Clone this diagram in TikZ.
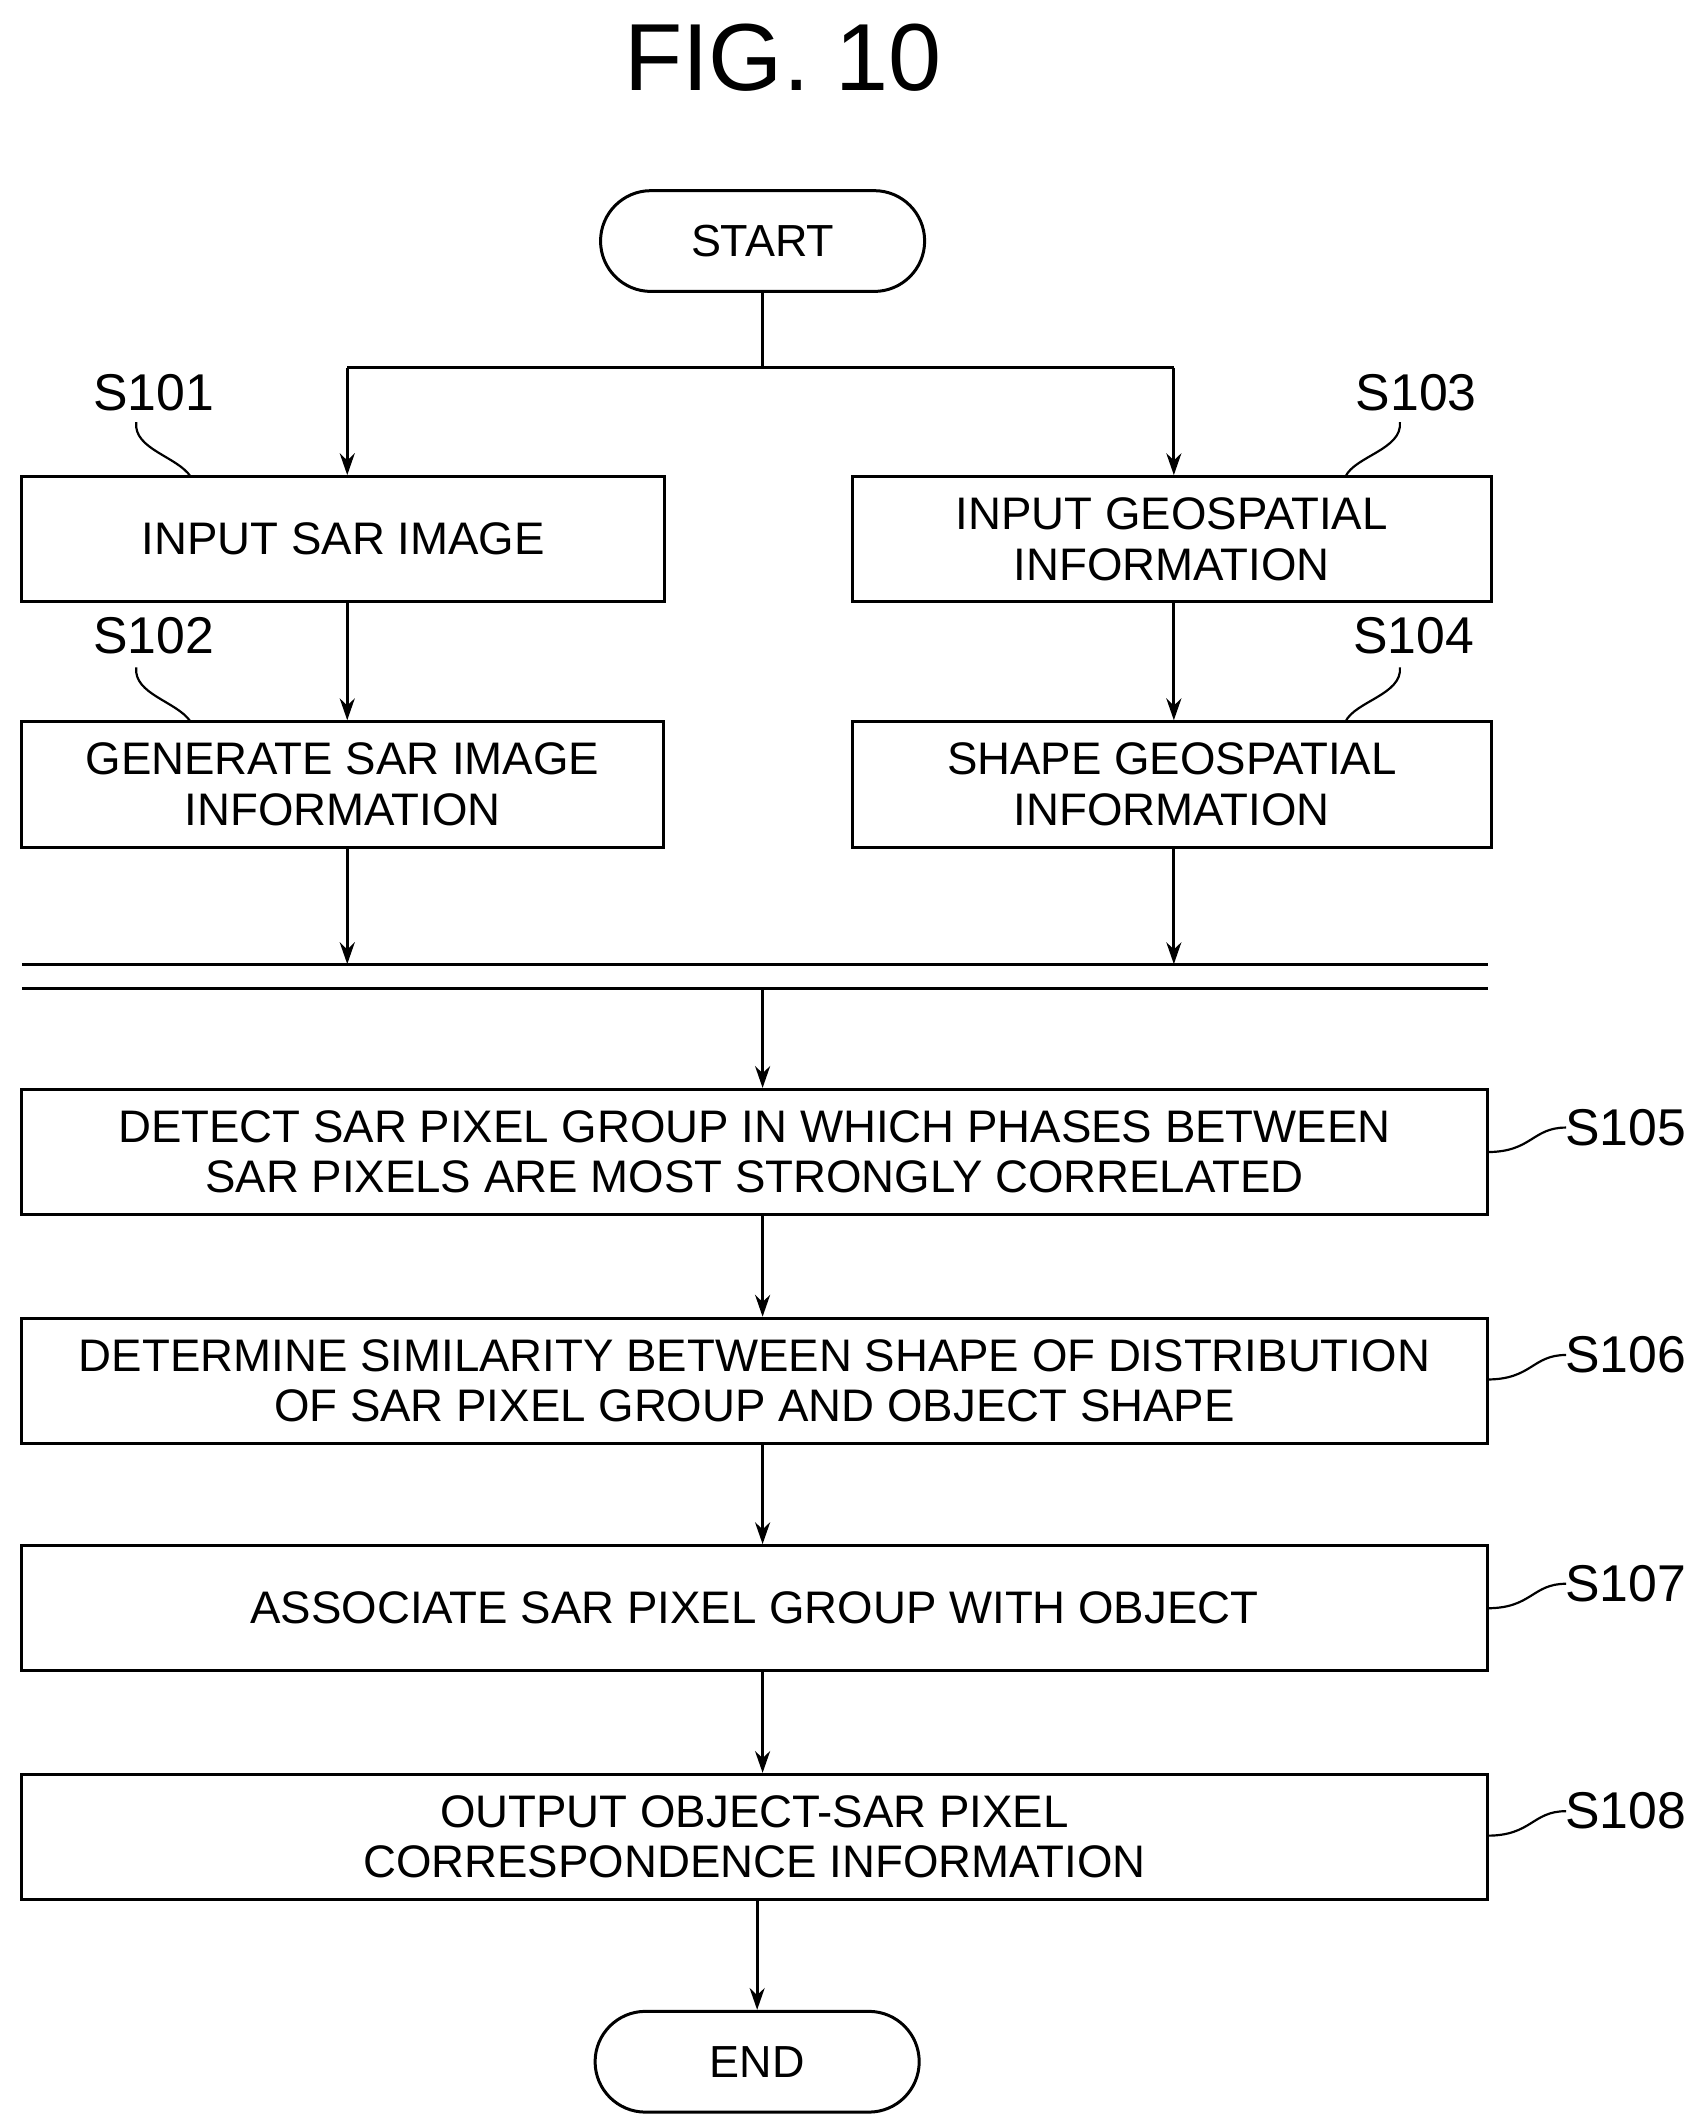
\documentclass[tikz,border=0pt]{standalone}
\usepackage{fontspec}
\setmainfont{Liberation Sans}
\usetikzlibrary{arrows.meta}
\begin{document}
\begin{tikzpicture}[x=1pt,y=-1pt,
  box/.style={draw,line width=2.2pt,inner sep=0pt,font=\fontsize{33.5}{37}\selectfont,align=center},
  term/.style={draw,line width=2.2pt,rounded corners=37pt,minimum width=238pt,minimum height=74pt,font=\fontsize{33}{37}\selectfont},
  lab/.style={font=\fontsize{38}{44}\selectfont},
  arr/.style={line width=2.2pt,-{Stealth[length=16pt,width=11pt]}},
  ln/.style={line width=2.2pt}]
\useasboundingbox (0,0) rectangle (1250,1559);
\node at (575,42) {\fontsize{70}{80}\selectfont FIG. 10};
\node[term] (start) at (560,177) {START};
\node[term] (end) at (556,1514) {END};
\newcommand\bx[6]{\node[box,minimum width=#3-#2,minimum height=#5-#4] (#1) at ({(#2+#3)/2},{(#4+#5)/2}) {#6};}
\bx{s101}{16}{488}{350}{442}{INPUT SAR IMAGE}
\bx{s103}{626}{1095}{350}{442}{INPUT GEOSPATIAL\\INFORMATION}
\bx{s102}{16}{487}{530}{622}{GENERATE SAR IMAGE\\INFORMATION}
\bx{s104}{626}{1095}{530}{622}{SHAPE GEOSPATIAL\\INFORMATION}
\bx{s105}{16}{1092}{800}{892}{DETECT SAR PIXEL GROUP IN WHICH PHASES BETWEEN\\SAR PIXELS ARE MOST STRONGLY CORRELATED}
\bx{s106}{16}{1092}{968}{1060}{DETERMINE SIMILARITY BETWEEN SHAPE OF DISTRIBUTION\\OF SAR PIXEL GROUP AND OBJECT SHAPE}
\bx{s107}{16}{1092}{1135}{1227}{ASSOCIATE SAR PIXEL GROUP WITH OBJECT}
\bx{s108}{16}{1092}{1303}{1395}{OUTPUT OBJECT-SAR PIXEL\\CORRESPONDENCE INFORMATION}
% branch
\coordinate (j) at (560,270);
\coordinate (jl) at (255,270);
\coordinate (jr) at (862,270);
\draw[ln] (start.south) -- (j);
\draw[ln] (jl) -- (jr);
\draw[arr] (jl) -- (jl|-s101.north);
\draw[arr] (jr) -- (jr|-s103.north);
\draw[arr] (s101.south-|jl) -- (jl|-s102.north);
\draw[arr] (s103.south-|jr) -- (jr|-s104.north);
% sync bar
\coordinate (b1l) at (16,708); \coordinate (b1r) at (1093,708);
\coordinate (b2l) at (16,726); \coordinate (b2r) at (1093,726);
\draw[ln] (b1l) -- (b1r);
\draw[ln] (b2l) -- (b2r);
\draw[arr] (s102.south-|jl) -- (jl|-b1l);
\draw[arr] (s104.south-|jr) -- (jr|-b1l);
\draw[arr] (560,726) -- (s105.north-|560,0);
\draw[arr] (s105.south-|560,0) -- (s106.north-|560,0);
\draw[arr] (s106.south-|560,0) -- (s107.north-|560,0);
\draw[arr] (s107.south-|560,0) -- (s108.north-|560,0);
\draw[arr] (s108.south-|556,0) -- (end.north);
% step labels
\node[lab] (l101) at (113,288) {S101};
\node[lab] (l103) at (1040,288) {S103};
\node[lab] (l102) at (113,467) {S102};
\node[lab] (l104) at (1038,467) {S104};
\draw[line width=1.6pt] (100,310) .. controls (98,330) and (130,335) .. (140,350);
\draw[line width=1.6pt] (1028,310) .. controls (1030,330) and (995,335) .. (988,350);
\draw[line width=1.6pt] (100,490) .. controls (98,510) and (130,515) .. (140,530);
\draw[line width=1.6pt] (1028,490) .. controls (1030,510) and (995,515) .. (988,530);
\foreach \n/\y in {105/828,106/995,107/1163,108/1330}{
  \node[lab,anchor=west] (l\n) at (1146,\y) {S\n};
  \draw[line width=1.6pt] (1092,\y+18) .. controls (1125,\y+18) and (1125,\y) .. (1150,\y);
}
\end{tikzpicture}
\end{document}
